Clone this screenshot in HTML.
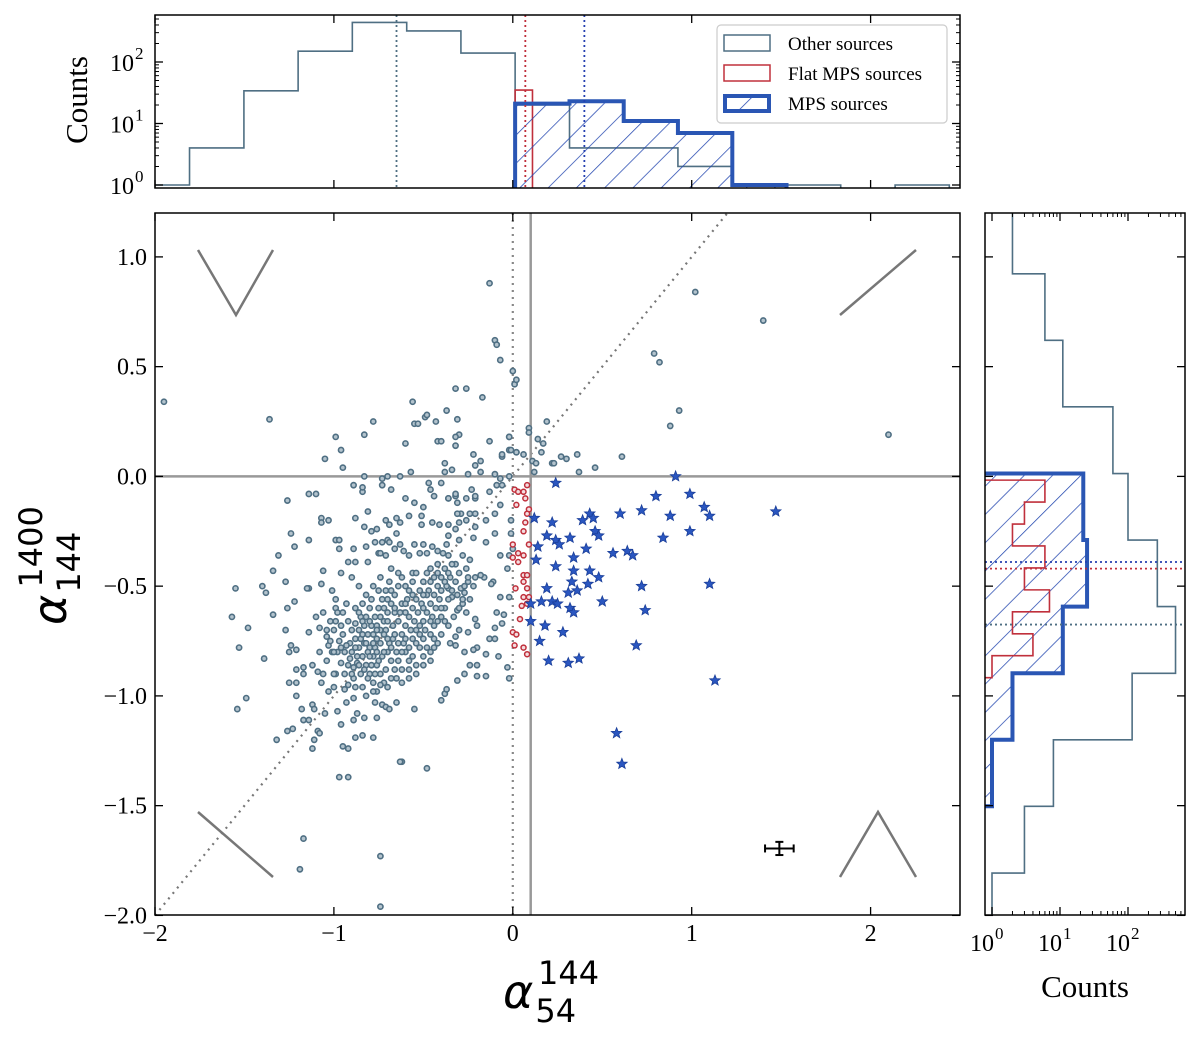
<!DOCTYPE html>
<html><head><meta charset="utf-8"><style>
html,body{margin:0;padding:0;background:#fff;}
svg{display:block;}
.tk{font-family:"Liberation Serif",serif;font-size:24px;fill:#000;}
</style></head><body>
<svg id="chart" width="1200" height="1043" viewBox="0 0 1200 1043" xmlns="http://www.w3.org/2000/svg">
<defs>
<pattern id="hatch" patternUnits="userSpaceOnUse" width="20" height="20" patternTransform="rotate(45)">
<line x1="0" y1="0" x2="0" y2="20" stroke="#2447b0" stroke-width="1.5"/>
</pattern>
<clipPath id="clipMain"><rect x="155" y="213" width="805" height="702"/></clipPath>
<clipPath id="clipTop"><rect x="155" y="15" width="805" height="173"/></clipPath>
<clipPath id="clipRight"><rect x="985" y="213" width="200" height="702"/></clipPath>
</defs>
<rect width="1200" height="1043" fill="#fff"/>
<g id="gMain"></g>
<g id="gTop"></g>
<g id="gRight"></g>
<g id="gLabels">
<text x="503" y="1008" font-family="DejaVu Sans, sans-serif" font-style="italic" font-size="46">α<tspan font-style="normal" font-size="32" dx="2" dy="14">54</tspan><tspan font-style="normal" font-size="32" dx="-38" dy="-38">144</tspan></text>
<g transform="translate(66,570) rotate(-90)">
<text x="-55" y="0" font-family="DejaVu Sans, sans-serif" font-style="italic" font-size="46">α<tspan font-style="normal" font-size="32" dx="2" dy="14">144</tspan><tspan font-style="normal" font-size="32" dx="-56" dy="-38">1400</tspan></text>
</g>
<text transform="translate(87,100) rotate(-90)" text-anchor="middle" font-family="Liberation Serif, serif" font-size="31">Counts</text>
<text x="1085" y="997" text-anchor="middle" font-family="Liberation Serif, serif" font-size="31">Counts</text>
</g>
<g>
<rect x="717" y="25" width="230" height="98" rx="4" fill="#fff" stroke="#ccc" stroke-width="1.2"/>
<rect x="724" y="35" width="46" height="16" fill="none" stroke="#4f6f83" stroke-width="1.5"/>
<text x="788" y="50" font-family="Liberation Serif, serif" font-size="19">Other sources</text>
<rect x="724" y="65" width="46" height="16" fill="none" stroke="#c0303c" stroke-width="1.5"/>
<text x="788" y="80" font-family="Liberation Serif, serif" font-size="19">Flat MPS sources</text>
<rect x="725" y="96" width="44" height="15" fill="url(#hatch)" stroke="#2a56b4" stroke-width="4"/>
<text x="788" y="110" font-family="Liberation Serif, serif" font-size="19">MPS sources</text>
</g>
</svg>
<script>
// ---------- data ----------
const otherPts = [
[-1.36,0.26],[-0.26,0.40],[0.01,0.42],[-0.78,0.25],[-0.83,0.19],[-0.99,0.18],[-0.96,0.12],[-1.05,0.08],[-0.95,0.04],[-0.60,0.15],
[-0.55,0.24],[-0.53,0.24],[-0.49,0.27],[-0.48,0.28],[-0.43,0.25],[-0.37,0.30],[-0.31,0.26],[-0.42,0.16],[-0.40,0.16],[-0.32,0.14],
[-0.30,0.19],[-0.32,0.18],[-0.13,0.16],[-0.02,0.18],[-0.06,0.09],[-0.02,0.12],[0.02,0.11],[0.06,0.10],[-0.22,0.10],[-0.18,0.07],
[-0.21,0.05],[-0.38,0.06],[-0.34,0.03],[-0.38,0.02],[-0.57,0.02],[-0.25,0.01],[-0.18,0.02],[-0.10,0.01],[-0.07,-0.01],[-0.02,0.00],
[-1.26,-0.11],[-1.14,-0.08],[-1.10,-0.08],[-1.07,-0.19],[-1.07,-0.21],[-1.03,-0.20],[-1.24,-0.26],[-1.14,-0.29],[-1.22,-0.32],[-1.31,-0.36],
[-1.34,-0.43],[-1.55,-0.51],[-1.40,-0.50],[-1.38,-0.53],[-1.27,-0.48],[-1.14,-0.51],[-1.22,-0.57],[-1.26,-0.60],[-1.57,-0.64],[-1.48,-0.69],
[-1.34,-0.63],[-1.53,-0.78],[-1.39,-0.83],[-1.27,-0.70],[-1.24,-0.77],[-1.25,-0.80],[-1.21,-0.79],[-1.21,-0.88],[-1.17,-0.87],[-1.17,-0.90],
[-1.25,-0.94],[-1.21,-0.94],[-1.49,-1.01],[-1.54,-1.06],[-1.21,-1.00],[-1.18,-1.06],[-1.12,-1.04],[-1.11,-1.06],[-1.17,-1.11],[-1.14,-1.11],
[-1.23,-1.15],[-1.26,-1.16],[-1.09,-1.16],[-1.08,-1.17],[-1.11,-1.20],[-1.32,-1.20],[-1.12,-1.24],[-0.95,-1.23],[-0.92,-1.24],[-0.88,-1.19],
[-0.84,-1.18],[-0.78,-1.19],[-0.62,-1.30],[-0.48,-1.33],[-0.97,-1.37],[-1.05,-1.08],[-0.98,-1.07],[-0.96,-1.13],[-0.89,-1.11],[-0.87,-1.08],
[-0.83,-1.10],[-0.76,-1.10],[-0.77,-1.03],[-0.73,-1.04],[-0.71,-1.05],[-0.69,-1.06],[-0.65,-1.03],[-0.55,-1.06],[-0.40,-1.02],[-0.38,-0.99],
[-0.37,-0.97],[-0.31,-0.93],[-0.27,-0.90],[-0.20,-0.91],[-0.15,-0.91],[-0.02,-0.92],[-0.03,-0.87],[-0.08,-0.82],[-0.15,-0.81],[-0.20,-0.86],
[-0.24,-0.86],[-0.20,-0.78],[-0.13,-0.74],[-0.10,-0.74],[-0.10,-0.69],[-0.06,-0.67],[-0.05,-0.63],[-0.09,-0.62],[-0.07,-0.55],[-0.02,-0.55],
[-0.03,-0.42],[-0.02,-0.36],[-0.10,-0.26],[-0.07,-0.36],[-0.15,-0.30],[-0.10,-0.17],[-0.15,-0.20],[-0.13,-0.07],[-0.09,-0.04],[-0.06,-0.04],
[-0.07,-0.13],[-0.01,-0.20],[-0.01,-0.26],[0.00,-0.33],[-0.11,-0.48],[-0.12,-0.49],[-0.16,-0.46],[-0.18,-0.45],[-0.21,-0.46],[-0.22,-0.50],
[-0.24,-0.56],[-0.25,-0.48],[-0.21,-0.65],[-0.20,-0.68],[-0.25,-0.71],[-0.30,-0.70],[-0.32,-0.73],[-0.35,-0.76],[-0.32,-0.77],[-0.27,-0.80],
[-0.22,-0.79],[-0.26,-0.62],[-0.31,-0.61],[-0.28,-0.58],[-0.34,-0.55],[-0.36,-0.51],[-0.29,-0.51],[-0.27,-0.53],[-0.21,-0.10],[-0.21,-0.09],
[-0.26,-0.10],[-0.32,-0.09],[-0.36,-0.10],[-0.23,-0.06],[-0.24,-0.17],[-0.21,-0.17],[-0.29,-0.17],[-0.31,-0.17],[-0.36,-0.22],[-0.30,-0.21],
[-0.26,-0.20],[-0.21,-0.23],[-0.22,-0.28],[-0.30,-0.29],[-0.32,-0.24],[-0.41,-0.22],[-0.45,-0.21],[-0.51,-0.18],[-0.51,-0.22],[-0.58,-0.18],
[-0.55,-0.12],[-0.50,-0.14],[-0.47,-0.03],[-0.46,-0.06],[-0.44,-0.09],[-0.40,-0.03],[-0.36,-0.10],[-0.32,-0.08],[-0.31,-0.12],[-0.60,-0.10],
[-0.68,-0.06],[-0.73,-0.01],[-0.70,0.00],[-0.63,0.00],[-0.73,-0.04],[-0.84,-0.07],[-0.84,-0.05],[-0.89,-0.04],[-0.83,0.00],[-0.88,-0.19],
[-0.81,-0.16],[-0.83,-0.23],[-0.79,-0.25],[-0.76,-0.24],[-0.71,-0.20],[-0.69,-0.22],[-0.65,-0.19],[-0.63,-0.21],[-0.65,-0.26],[-0.70,-0.29],
[-0.77,-0.30],[-0.73,-0.30],[-0.99,-0.29],[-0.97,-0.29],[-0.97,-0.33],[-0.89,-0.33],[-0.82,-0.32],[-0.75,-0.35],[-0.69,-0.30],[-0.92,-0.39],
[-0.88,-0.39],[-0.81,-0.39],[-0.74,-0.35],[-0.71,-0.36],[-0.66,-0.33],[-0.63,-0.31],[-0.61,-0.34],[-0.58,-0.36],[-0.55,-0.31],[-0.50,-0.31],
[-0.52,-0.35],[-0.48,-0.35],[-0.45,-0.32],[-0.42,-0.34],[-0.39,-0.35],[-0.36,-0.27],[-0.37,-0.31],[-1.06,-0.43],[-0.96,-0.44],[-1.07,-0.49],
[-1.15,-0.51],[-1.01,-0.52],[-0.99,-0.56],[-0.99,-0.60],[-1.10,-0.64],[-1.08,-0.69],[-1.14,-0.71],[-1.04,-0.73],[-1.03,-0.77],[-1.01,-0.80],
[-1.09,-0.89],[-1.07,-0.94],[-1.03,-0.98],[-0.99,-0.90],[-0.94,-0.97],[-0.89,-1.01],[-0.93,-1.03],
[0.19,0.25],[0.09,0.22],[0.09,0.20],[-0.02,0.18],[0.14,0.17],[0.17,0.15],[0.16,0.11],[-0.01,0.12],[0.02,0.11],[-0.06,0.10],
[0.11,0.07],[0.13,0.06],[0.22,0.06],[0.23,0.06],[0.27,0.09],[0.30,0.08],[0.36,0.10],[0.12,0.02],[0.37,0.02],[0.46,0.04],
[0.61,0.09],[0.88,0.23],[0.93,0.30],[-1.95,0.34],[-0.13,0.88],[-0.10,0.62],[-0.09,0.60],[0.00,0.48],[0.02,0.44],[1.02,0.84],
[0.79,0.56],[0.82,0.52],[1.40,0.71],[2.10,0.19],[-0.17,0.36],[-0.07,0.53],[-0.32,0.40],[-0.56,0.34],[-0.74,-1.73],[-0.74,-1.96],
[-1.17,-1.65],[-1.19,-1.79],[-0.92,-1.37],[-0.63,-1.30],
[-0.95,-0.62],[-0.92,-0.66],[-0.9,-0.7],[-0.88,-0.74],[-0.86,-0.78],[-0.84,-0.82],[-0.82,-0.86],[-0.8,-0.9],[-0.78,-0.94],[-0.9,-0.8],
[-0.87,-0.85],[-0.85,-0.9],[-0.83,-0.76],[-0.81,-0.72],[-0.79,-0.68],[-0.77,-0.64],[-0.75,-0.6],[-0.73,-0.56],[-0.71,-0.52],[-0.69,-0.48],
[-0.8,-0.78],[-0.78,-0.82],[-0.76,-0.86],[-0.74,-0.9],[-0.72,-0.94],[-0.76,-0.74],[-0.74,-0.7],[-0.72,-0.66],[-0.7,-0.62],[-0.68,-0.58],
[-0.66,-0.54],[-0.64,-0.5],[-0.62,-0.46],[-0.7,-0.8],[-0.68,-0.84],[-0.66,-0.88],[-0.64,-0.76],[-0.62,-0.72],[-0.6,-0.68],[-0.58,-0.64],
[-0.56,-0.6],[-0.54,-0.56],[-0.52,-0.52],[-0.5,-0.48],[-0.48,-0.44],[-0.6,-0.8],[-0.58,-0.84],[-0.56,-0.74],[-0.54,-0.7],[-0.5,-0.66],
[-0.48,-0.62],[-0.46,-0.58],[-0.44,-0.54],[-0.42,-0.5],[-0.4,-0.46],[-0.38,-0.42],[-0.52,-0.78],[-0.46,-0.72],[-0.44,-0.68],[-0.4,-0.64],
[-0.38,-0.6],[-0.36,-0.56],[-0.34,-0.52],[-0.32,-0.48],[-0.3,-0.44],[-1.0,-0.7],[-1.02,-0.75],[-0.98,-0.8],[-0.96,-0.85],[-0.94,-0.9],
[-0.92,-0.95],[-1.0,-0.9],[-0.97,-0.75],[-0.93,-0.58],[-0.88,-0.6],[-0.85,-0.64],[-0.83,-0.68],[-0.86,-0.7],[-0.89,-0.92],[-0.84,-0.96],
[-0.76,-0.98],[-0.7,-0.96],[-0.65,-0.92],[-0.62,-0.88],[-0.58,-0.92],[-0.54,-0.86],[-0.5,-0.82],[-0.46,-0.8],[-0.42,-0.76],[-0.4,-0.72],
[-0.36,-0.68],[-0.33,-0.64],[-0.3,-0.6],[-0.28,-0.56],[-0.26,-0.42],[-0.24,-0.38],[-0.28,-0.36],[-0.32,-0.4],[-0.36,-0.36],[-0.42,-0.4],
[-0.46,-0.42],[-0.56,-0.44],[-0.6,-0.5],[-0.64,-0.44],[-0.68,-0.42],[-0.74,-0.46],[-0.78,-0.5],[-0.82,-0.54],[-0.86,-0.5],[-0.9,-0.46],
[-0.79,-0.56],[-0.75,-0.52],[-0.71,-0.7],[-0.67,-0.74],[-0.63,-0.62],[-0.59,-0.56],[-0.55,-0.66],[-0.51,-0.58],[-0.47,-0.52],[-0.43,-0.6],
[-0.77,-0.78],[-0.73,-0.82],[-0.69,-0.76],[-0.65,-0.8],[-0.81,-0.8],[-0.85,-0.74],[-0.79,-0.86],[-0.75,-0.84],[-0.71,-0.88],[-0.67,-0.68],
[-0.61,-0.76],[-0.57,-0.7],[-0.53,-0.62],[-0.49,-0.7],[-0.45,-0.64],[-0.41,-0.56],[-0.37,-0.5],[-0.35,-0.46],[-0.31,-0.54],[-0.27,-0.5],
[-0.25,-0.46],[-1.04,-0.84],[-1.06,-0.62],[-0.99,-0.66],[-0.95,-0.72],[-0.91,-0.76],[-0.87,-0.82],[-0.83,-0.88],[-0.81,-0.92],[-0.77,-0.9],
[-0.93,-0.77],[-0.91,-0.83],[-0.89,-0.87],[-0.88,-0.67],[-0.86,-0.62],[-0.84,-0.58],[-0.82,-0.64],[-0.8,-0.6],[-0.78,-0.72],[-0.76,-0.68],
[-0.74,-0.64],[-0.72,-0.6],[-0.7,-0.56],[-0.68,-0.52],[-0.66,-0.62],[-0.64,-0.66],[-0.62,-0.58],[-0.6,-0.62],[-0.58,-0.52],[-0.56,-0.48],
[-0.54,-0.44],[-0.52,-0.68],[-0.5,-0.6],[-0.48,-0.54],[-0.46,-0.48],[-0.44,-0.46],[-0.42,-0.44],[-0.4,-0.52],[-0.38,-0.48],[-0.36,-0.44],
[-0.34,-0.4],[-0.82,-0.76],[-0.8,-0.82],[-0.78,-0.76],[-0.76,-0.8],[-0.74,-0.76],[-0.72,-0.8],[-0.7,-0.74],[-0.68,-0.78],[-0.66,-0.72],
[-0.64,-0.84],[-0.62,-0.8],[-0.6,-0.74],[-0.58,-0.78],[-0.56,-0.82],[-0.54,-0.76],[-0.52,-0.72],[-0.5,-0.74],[-0.48,-0.78],[-0.46,-0.66],
[-0.44,-0.74],[-0.42,-0.66],[-0.4,-0.6],[-0.38,-0.66],[-0.84,-0.72],[-0.86,-0.86],[-0.9,-0.9],[-0.96,-0.68],[-0.98,-0.62],[-1.02,-0.66],
[-1.04,-0.7],[-0.94,-0.8],[-0.92,-0.86],[-0.88,-0.96],[-0.82,-1.0],[-0.78,-0.98],[-0.74,-0.95],[-0.68,-0.92],[-0.62,-0.94],[-0.58,-0.88],
[-0.54,-0.9],[-0.5,-0.86],[-0.46,-0.84],[-0.44,-0.78],[-0.5,-0.54],[-0.56,-0.54],[-0.6,-0.58],[-0.66,-0.6],[-0.7,-0.66],[-0.72,-0.72],
[-0.76,-0.7],[-0.8,-0.66],[-0.84,-0.66],[-0.88,-0.78],[-0.96,-0.78],[-1.0,-0.8],[-1.08,-0.8],[-1.12,-0.86],[-1.06,-0.9],[-1.0,-0.96]
];
const flatPts = [
[0.08,-0.04],[0.01,-0.06],[0.03,-0.07],[0.06,-0.07],[0.07,-0.10],[0.02,-0.13],[0.09,-0.15],[0.08,-0.17],[0.07,-0.21],[0.06,-0.25],
[0.00,-0.31],[0.09,-0.31],[0.03,-0.35],[0.06,-0.36],[0.00,-0.37],[0.03,-0.39],[0.06,-0.45],[0.08,-0.45],[0.06,-0.48],[0.015,-0.51],
[0.08,-0.51],[0.06,-0.55],[0.09,-0.55],[0.05,-0.59],[0.08,-0.58],[0.04,-0.65],[0.00,-0.71],[0.02,-0.72],[0.01,-0.77],[0.06,-0.78],[0.08,-0.81]
];
const mpsPts = [
[0.24,-0.03],[0.91,0.00],[0.80,-0.09],[0.99,-0.08],[1.07,-0.14],[1.10,-0.18],[0.12,-0.19],[0.22,-0.21],[0.39,-0.20],[0.43,-0.17],
[0.45,-0.19],[0.60,-0.17],[0.72,-0.155],[0.88,-0.18],[0.99,-0.25],[0.84,-0.28],[0.19,-0.27],[0.24,-0.29],[0.26,-0.31],[0.32,-0.28],
[0.46,-0.25],[0.48,-0.27],[0.41,-0.33],[0.14,-0.32],[0.13,-0.38],[0.34,-0.37],[0.56,-0.35],[0.64,-0.34],[0.67,-0.36],[0.24,-0.41],
[0.34,-0.43],[0.43,-0.43],[0.48,-0.46],[0.33,-0.48],[0.42,-0.49],[0.19,-0.51],[0.31,-0.53],[0.36,-0.52],[0.72,-0.50],[1.10,-0.49],
[0.10,-0.58],[0.16,-0.57],[0.22,-0.57],[0.25,-0.58],[0.50,-0.57],[0.32,-0.60],[0.34,-0.62],[0.74,-0.61],[0.10,-0.66],[0.18,-0.68],
[0.28,-0.71],[0.15,-0.75],[0.69,-0.77],[0.20,-0.84],[0.31,-0.85],[0.37,-0.83],[1.13,-0.93],[1.47,-0.16],[0.58,-1.17],[0.61,-1.31]
];
// error bar (x, y, xerr, yerr)
const errBar = [1.49,-1.695,0.08,0.03];
// histogram bins
const binEdges = [-2.11,-1.807,-1.503,-1.2,-0.897,-0.593,-0.29,0.013,0.317,0.62,0.923,1.227,1.53,1.833,2.137,2.44];
const topOtherCounts = [1,4,34,150,440,320,140,20,4,4,2,1,1,0,1];
const topMpsCounts   = [0,0,0,0,0,0,0,21,23,11,7,1,0,0,0];
const topFlatEdges = [0.013,0.11];
const topFlatCounts = [35];
const rightOtherCounts = [1,3,8,115,500,270,100,60,11,6,2];
const rightMpsCounts   = [0,0,1,2,11,25,22,0,0,0,0];
const rightFlatEdges = [-0.917,-0.817,-0.717,-0.617,-0.517,-0.417,-0.317,-0.217,-0.117,-0.017];
const rightFlatCounts = [1,4,2,7,3,6,2,3,6];
const medX = [-0.65,0.07,0.40];   // other, flat, mps
const medY = [-0.675,-0.42,-0.39];
const xTicks = [-2,-1,0,1,2];
const xTickLabels = ["−2","−1","0","1","2"];
const yTicks = [1.0,0.5,0.0,-0.5,-1.0,-1.5,-2.0];
const yTickLabels = ["1.0","0.5","0.0","−0.5","−1.0","−1.5","−2.0"];
const logTicks = [0,1,2];
const logTickLabels = ["0","1","2"];

// ---------- scales ----------
const X = v => 155 + (v + 2) * 178.9;
const Y = v => 213 + (1.2 - v) * 219.5;
const TY = c => c > 0 ? 185 - 61.5 * Math.log10(c) : 190;
const RX = c => c > 0 ? 992 + 68 * Math.log10(c) : 983;
const NS = "http://www.w3.org/2000/svg";
function mk(parent, tag, attrs) {
  const e = document.createElementNS(NS, tag);
  for (const k in attrs) e.setAttribute(k, attrs[k]);
  parent.appendChild(e);
  return e;
}
const gMain = document.getElementById('gMain');
const gTop = document.getElementById('gTop');
const gRight = document.getElementById('gRight');
const OTHER = '#4f6f83', RED = '#c0303c', BLUE = '#2a56b4';

// ---------- main panel ----------
const mainClip = mk(gMain, 'g', {'clip-path': 'url(#clipMain)'});


let l;
l = mk(mainClip, 'line', {x1: X(0), y1: 213, x2: X(0), y2: 915, stroke: '#888', 'stroke-width': 2.2, 'stroke-dasharray': '2,5'});


l = mk(mainClip, 'line', {x1: X(-2), y1: Y(-2), x2: X(1.2), y2: Y(1.2), stroke: '#777', 'stroke-width': 2.2, 'stroke-dasharray': '2,5'});


l = mk(mainClip, 'line', {x1: X(0.1), y1: 213, x2: X(0.1), y2: 915, stroke: '#999', 'stroke-width': 2.5});


l = mk(mainClip, 'line', {x1: 155, y1: Y(0), x2: 960, y2: Y(0), stroke: '#999', 'stroke-width': 2.5});


const shapes = [
 ['spectrum-shape-peaked', '198,250 236,315 273,250'],
 ['spectrum-shape-rising', '840,315 916,250'],
 ['spectrum-shape-falling', '198,812 273,877'],
 ['spectrum-shape-inverted', '840,877 878,812 916,877']
];
shapes.forEach(s => {
  const p = mk(mainClip, 'polyline', {points: s[1], fill: 'none', stroke: '#777', 'stroke-width': 2.5});
  
  
});
otherPts.forEach(p => {
  const c = mk(mainClip, 'circle', {cx: X(p[0]), cy: Y(p[1]), r: 2.6, fill: '#b3c3cd', stroke: OTHER, 'stroke-width': 1.6});
  
  
});
flatPts.forEach(p => {
  const c = mk(mainClip, 'circle', {cx: X(p[0]), cy: Y(p[1]), r: 2.5, fill: '#f3dde0', stroke: RED, 'stroke-width': 1.5});
  
  
});
function starPath(cx, cy, R, r) {
  let d = '';
  for (let i = 0; i < 10; i++) {
    const a = -Math.PI / 2 + i * Math.PI / 5, rr = i % 2 ? r : R;
    d += (i ? 'L' : 'M') + (cx + rr * Math.cos(a)).toFixed(1) + ',' + (cy + rr * Math.sin(a)).toFixed(1);
  }
  return d + 'Z';
}
mpsPts.forEach(p => {
  const s = mk(mainClip, 'path', {d: starPath(X(p[0]), Y(p[1]), 5.5, 2.4), fill: '#2a56c0', stroke: '#1b3f99', 'stroke-width': 0.8});
  
  
});
const eb = mk(gMain, 'g', {stroke: '#000', 'stroke-width': 2});


const ex = X(errBar[0]), ey = Y(errBar[1]);
const ex0 = X(errBar[0] - errBar[2]), ex1 = X(errBar[0] + errBar[2]);
const ey0 = Y(errBar[1] + errBar[3]), ey1 = Y(errBar[1] - errBar[3]);
mk(eb, 'line', {x1: ex0, y1: ey, x2: ex1, y2: ey});
mk(eb, 'line', {x1: ex0, y1: ey - 4, x2: ex0, y2: ey + 4});
mk(eb, 'line', {x1: ex1, y1: ey - 4, x2: ex1, y2: ey + 4});
mk(eb, 'line', {x1: ex, y1: ey0, x2: ex, y2: ey1});
mk(eb, 'line', {x1: ex - 4, y1: ey0, x2: ex + 4, y2: ey0});
mk(eb, 'line', {x1: ex - 4, y1: ey1, x2: ex + 4, y2: ey1});
const fr = mk(gMain, 'rect', {x: 155, y: 213, width: 805, height: 702, fill: 'none', stroke: '#000', 'stroke-width': 1.5});


xTicks.forEach((v, i) => {
  mk(gMain, 'line', {x1: X(v), y1: 915, x2: X(v), y2: 907, stroke: '#000', 'stroke-width': 1.3});
  mk(gMain, 'line', {x1: X(v), y1: 213, x2: X(v), y2: 221, stroke: '#000', 'stroke-width': 1.3});
  const t = mk(gMain, 'text', {x: X(v), y: 941, 'text-anchor': 'middle', class: 'tk'});
  t.textContent = xTickLabels[i];
  
  
});
yTicks.forEach((v, i) => {
  mk(gMain, 'line', {x1: 155, y1: Y(v), x2: 163, y2: Y(v), stroke: '#000', 'stroke-width': 1.3});
  mk(gMain, 'line', {x1: 960, y1: Y(v), x2: 952, y2: Y(v), stroke: '#000', 'stroke-width': 1.3});
  const t = mk(gMain, 'text', {x: 147, y: Y(v) + 8, 'text-anchor': 'end', class: 'tk'});
  t.textContent = yTickLabels[i];
  
  
});

// ---------- top histogram ----------
function stepPathH(edges, counts, yf, base) {
  let d = 'M' + X(edges[0]) + ',' + base;
  counts.forEach((c, i) => {
    const y = yf(c);
    d += 'L' + X(edges[i]) + ',' + y + 'L' + X(edges[i + 1]) + ',' + y;
  });
  return d + 'L' + X(edges[edges.length - 1]) + ',' + base;
}
const topClip = mk(gTop, 'g', {'clip-path': 'url(#clipTop)'});


let p;
p = mk(topClip, 'path', {d: stepPathH(binEdges, topOtherCounts, TY, 192), fill: 'none', stroke: OTHER, 'stroke-width': 1.6});


p = mk(topClip, 'path', {d: stepPathH(topFlatEdges, topFlatCounts, TY, 192), fill: 'none', stroke: RED, 'stroke-width': 1.6});


{
  const e = binEdges.slice(7, 13), c = topMpsCounts.slice(7, 12);
  p = mk(topClip, 'path', {d: stepPathH(e, c, TY, 192) + 'Z', fill: 'url(#hatch)', stroke: BLUE, 'stroke-width': 4});
  
  
}
const medColors = [OTHER, RED, '#2540b0'];
medX.forEach((v, i) => {
  const m = mk(topClip, 'line', {x1: X(v), y1: 15, x2: X(v), y2: 188, stroke: medColors[i], 'stroke-width': 1.8, 'stroke-dasharray': '2,3'});
  
  
});
const tf = mk(gTop, 'rect', {x: 155, y: 15, width: 805, height: 173, fill: 'none', stroke: '#000', 'stroke-width': 1.5});


xTicks.forEach(v => {
  mk(gTop, 'line', {x1: X(v), y1: 188, x2: X(v), y2: 180, stroke: '#000', 'stroke-width': 1.3});
  mk(gTop, 'line', {x1: X(v), y1: 15, x2: X(v), y2: 23, stroke: '#000', 'stroke-width': 1.3});
});
logTicks.forEach((k, i) => {
  const y = TY(Math.pow(10, k));
  mk(gTop, 'line', {x1: 155, y1: y, x2: 163, y2: y, stroke: '#000', 'stroke-width': 1.3});
  mk(gTop, 'line', {x1: 960, y1: y, x2: 952, y2: y, stroke: '#000', 'stroke-width': 1.3});
  for (let m = 2; m < 10; m++) {
    const ym = TY(m * Math.pow(10, k));
    if (ym < 15) continue;
    mk(gTop, 'line', {x1: 155, y1: ym, x2: 159, y2: ym, stroke: '#000', 'stroke-width': 1});
    mk(gTop, 'line', {x1: 960, y1: ym, x2: 956, y2: ym, stroke: '#000', 'stroke-width': 1});
  }
  const t = mk(gTop, 'text', {x: 134, y: y + 9, 'text-anchor': 'end', class: 'tk'});
  t.textContent = '10';
  
  
  const s = mk(gTop, 'text', {x: 135, y: y - 3, class: 'tk'});
  s.setAttribute('style', 'font-size:17px');
  s.textContent = logTickLabels[i];
  
  
});

// ---------- right histogram ----------
function stepPathV(edges, counts, xf, base) {
  let d = 'M' + base + ',' + Y(edges[0]);
  counts.forEach((c, i) => {
    const x = xf(c);
    d += 'L' + x + ',' + Y(edges[i]) + 'L' + x + ',' + Y(edges[i + 1]);
  });
  return d + 'L' + base + ',' + Y(edges[edges.length - 1]);
}
const rClip = mk(gRight, 'g', {'clip-path': 'url(#clipRight)'});


p = mk(rClip, 'path', {d: stepPathV(binEdges.slice(0, rightOtherCounts.length + 1), rightOtherCounts, RX, 980), fill: 'none', stroke: OTHER, 'stroke-width': 1.6});


{
  const e = binEdges.slice(2, 8), c = rightMpsCounts.slice(2, 7);
  p = mk(rClip, 'path', {d: stepPathV(e, c, RX, 980) + 'Z', fill: 'url(#hatch)', stroke: BLUE, 'stroke-width': 4});
  
  
}
p = mk(rClip, 'path', {d: stepPathV(rightFlatEdges, rightFlatCounts, RX, 980), fill: 'none', stroke: RED, 'stroke-width': 1.6});


medY.forEach((v, i) => {
  const m = mk(rClip, 'line', {x1: 985, y1: Y(v), x2: 1185, y2: Y(v), stroke: medColors[i], 'stroke-width': 1.8, 'stroke-dasharray': '2,3'});
  
  
});
const rf = mk(gRight, 'rect', {x: 985, y: 213, width: 200, height: 702, fill: 'none', stroke: '#000', 'stroke-width': 1.5});


yTicks.forEach(v => {
  mk(gRight, 'line', {x1: 985, y1: Y(v), x2: 993, y2: Y(v), stroke: '#000', 'stroke-width': 1.3});
  mk(gRight, 'line', {x1: 1185, y1: Y(v), x2: 1177, y2: Y(v), stroke: '#000', 'stroke-width': 1.3});
});
logTicks.forEach((k, i) => {
  const x = RX(Math.pow(10, k));
  mk(gRight, 'line', {x1: x, y1: 915, x2: x, y2: 907, stroke: '#000', 'stroke-width': 1.3});
  mk(gRight, 'line', {x1: x, y1: 213, x2: x, y2: 221, stroke: '#000', 'stroke-width': 1.3});
  for (let m = 2; m < 10; m++) {
    const xm = RX(m * Math.pow(10, k));
    if (xm > 1185) continue;
    mk(gRight, 'line', {x1: xm, y1: 915, x2: xm, y2: 911, stroke: '#000', 'stroke-width': 1});
    mk(gRight, 'line', {x1: xm, y1: 213, x2: xm, y2: 217, stroke: '#000', 'stroke-width': 1});
  }
  const t = mk(gRight, 'text', {x: x + 2, y: 951, 'text-anchor': 'end', class: 'tk'});
  t.textContent = '10';
  
  
  const s = mk(gRight, 'text', {x: x + 3, y: 939, class: 'tk'});
  s.setAttribute('style', 'font-size:17px');
  s.textContent = logTickLabels[i];
  
  
});
</script>
</body></html>
